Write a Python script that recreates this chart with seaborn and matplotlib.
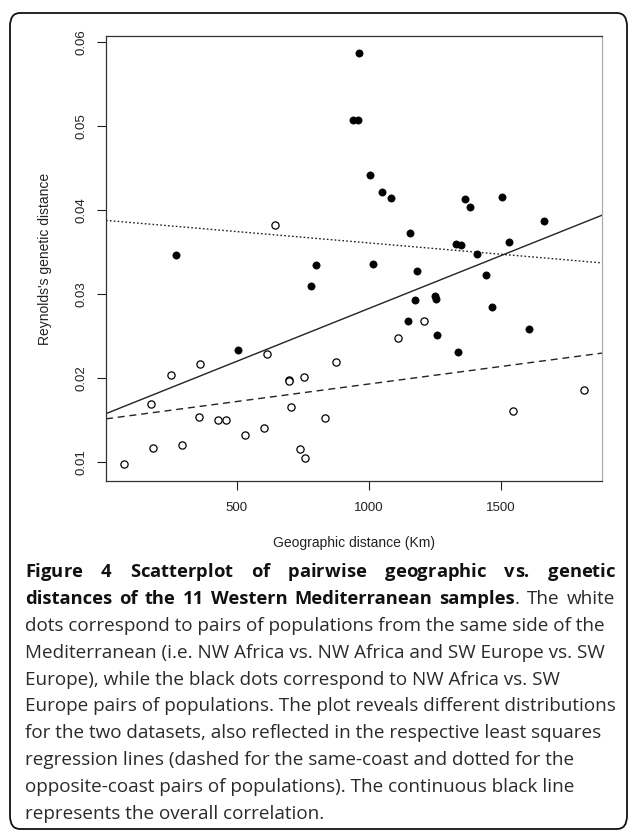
import matplotlib
matplotlib.use('Agg')
import matplotlib.pyplot as plt
import seaborn as sns
import pandas as pd
from matplotlib.patches import FancyBboxPatch

# same-coast pairs (white dots)
same_km = [74, 176, 181, 249, 291, 356, 359, 430, 460, 529, 601, 615, 646,
           699, 699, 704, 740, 753, 756, 835, 877, 1111, 1208, 1546, 1813]
same_gd = [0.0098, 0.0169, 0.0117, 0.0204, 0.0120, 0.0154, 0.0217, 0.0150,
           0.0150, 0.0132, 0.0140, 0.0228, 0.0382, 0.0198, 0.0197, 0.0165,
           0.0115, 0.0201, 0.0105, 0.0152, 0.0219, 0.0248, 0.0268, 0.0161,
           0.0186]

# opposite-coast pairs (black dots)
opp_km = [268, 505, 779, 801, 938, 960, 961, 1004, 1014, 1048, 1085, 1149,
          1156, 1174, 1184, 1251, 1253, 1258, 1330, 1339, 1348, 1364, 1384,
          1411, 1442, 1466, 1504, 1532, 1606, 1662]
opp_gd = [0.0346, 0.0233, 0.0310, 0.0334, 0.0507, 0.0507, 0.0587, 0.0442,
          0.0336, 0.0421, 0.0414, 0.0268, 0.0372, 0.0293, 0.0327, 0.0297,
          0.0294, 0.0251, 0.0360, 0.0231, 0.0358, 0.0413, 0.0404, 0.0348,
          0.0323, 0.0285, 0.0415, 0.0362, 0.0258, 0.0387]

x_ticks = [500, 1000, 1500]
y_ticks = [0.01, 0.02, 0.03, 0.04, 0.05, 0.06]

title_line = "Figure 4 Scatterplot of pairwise geographic vs. genetic"
title_rest = "distances of the 11 Western Mediterranean samples"
caption = [
    "dots correspond to pairs of populations from the same side of the",
    "Mediterranean (i.e. NW Africa vs. NW Africa and SW Europe vs. SW",
    "Europe), while the black dots correspond to NW Africa vs. SW",
    "Europe pairs of populations. The plot reveals different distributions",
    "for the two datasets, also reflected in the respective least squares",
    "regression lines (dashed for the same-coast and dotted for the",
    "opposite-coast pairs of populations). The continuous black line",
    "represents the overall correlation.",
]

same = pd.DataFrame({'km': same_km, 'gd': same_gd})
opp = pd.DataFrame({'km': opp_km, 'gd': opp_gd})
both = pd.concat([same, opp])

sns.set_style('ticks')
plt.rcParams['font.family'] = ['Liberation Sans', 'DejaVu Sans']

W, H = 629, 832
fig = plt.figure(figsize=(W / 100, H / 100), dpi=100)
ax = fig.add_axes([106 / W, 1 - 481 / H, (602 - 106) / W, (481 - 36) / H])
ax.set_xlim(4, 1883)
ax.set_ylim(0.00774, 0.0607)

# least squares lines: overall, same-coast, opposite-coast
sns.regplot(data=both, x='km', y='gd', scatter=False, ci=None, truncate=False,
            line_kws=dict(color='#222222', lw=1.0), ax=ax)
sns.regplot(data=same, x='km', y='gd', scatter=False, ci=None, truncate=False,
            line_kws=dict(color='#222222', lw=1.0, dashes=(5, 3.5)), ax=ax)
sns.regplot(data=opp, x='km', y='gd', scatter=False, ci=None, truncate=False,
            line_kws=dict(color='#222222', lw=1.0, dashes=(1.2, 1.6)), ax=ax)

sns.scatterplot(data=same, x='km', y='gd', color='white', edgecolor='black',
                s=27, linewidth=0.9, ax=ax, zorder=3)
sns.scatterplot(data=opp, x='km', y='gd', color='black', edgecolor='black',
                s=27, linewidth=0.5, ax=ax, zorder=3)

ax.set_xlim(4, 1883)
ax.set_ylim(0.00774, 0.0607)
ax.set_xticks(x_ticks)
ax.set_xticklabels([str(v) for v in x_ticks])
ax.set_yticks(y_ticks)
ax.set_yticklabels([f'{v:.2f}' for v in y_ticks], rotation=90, va='center')
ax.tick_params(direction='out', length=6.5, width=0.8, labelsize=9.5,
               colors='#222222')
ax.tick_params(axis='x', pad=8.5)
ax.tick_params(axis='y', pad=7)
for side, sp in ax.spines.items():
    sp.set_linewidth(0.9)
    sp.set_color('#333333')
ax.spines['right'].set_color('#aaaaaa')

ax.set_xlabel('Geographic distance (Km)', fontsize=10, color='#222222')
ax.set_ylabel("Reynolds's genetic distance", fontsize=10, color='#222222')
ax.xaxis.label.set_va('center')
ax.xaxis.set_label_coords(0.5, -(543 - 481) / 445)
ax.yaxis.label.set_va('center')
ax.yaxis.set_label_coords(-(106 - 45) / 496, 0.5)

# rounded frame around figure and caption
fig.patches.append(FancyBboxPatch((10 / W, 3 / H), 617 / W, 816 / H,
                                  boxstyle='round,pad=0,rounding_size=0.016',
                                  transform=fig.transFigure, fill=False,
                                  lw=1.3, ec='#111111'))

cap_font = ['Open Sans', 'DejaVu Sans']
fs = 13.6
fs_b = 13.2
x0, x1 = 25, 615
r = fig.canvas.get_renderer()


def ctext(txt, ypx, bold):
    return fig.text(0, 1 - ypx / H, txt, fontsize=fs_b if bold else fs,
                    fontweight='bold' if bold else 'normal', family=cap_font,
                    va='center', color='#111111' if bold else '#2a2a2a')


# line 1: justified, letters set one by one, extra room in the word gaps
track = 0.0
words = title_line.split()
glyphs = []
for wd in words:
    glyphs.append([(c, ctext(c, 572, True)) for c in wd])
char_w = {}
for g in glyphs:
    for c, t in g:
        char_w[id(t)] = t.get_window_extent(r).width
ink = sum(char_w.values()) + track * sum(len(g) - 1 for g in glyphs)
gap = (x1 - x0 - ink) / (len(words) - 1)
xp = x0
for g in glyphs:
    for k, (c, t) in enumerate(g):
        t.set_x(xp / W)
        xp += char_w[id(t)] + (track if k < len(g) - 1 else 0)
    xp += gap

# line 2: bold run then regular words, spaces stretched to the right margin
pieces = [(wd, True, False) for wd in title_rest.split()]
pieces += [('.', False, True), ('The', False, False), ('white', False, False)]
ts = [(ctext(p, 599, b), g) for p, b, g in pieces]
ws = [t.get_window_extent(r).width for t, _ in ts]
n_gaps = sum(1 for _, g in ts[1:] if not g)
gap = (x1 - x0 - sum(ws)) / n_gaps
xp = x0
for i, ((t, glue), w) in enumerate(zip(ts, ws)):
    if i > 0 and not glue:
        xp += gap
    t.set_x(xp / W)
    xp += w

for i, line in enumerate(caption):
    fig.text(x0 / W, 1 - (626 + 26.8 * i) / H, line, fontsize=fs,
             family=cap_font, va='center', color='#2a2a2a')

fig.savefig('out.png', dpi=100)
